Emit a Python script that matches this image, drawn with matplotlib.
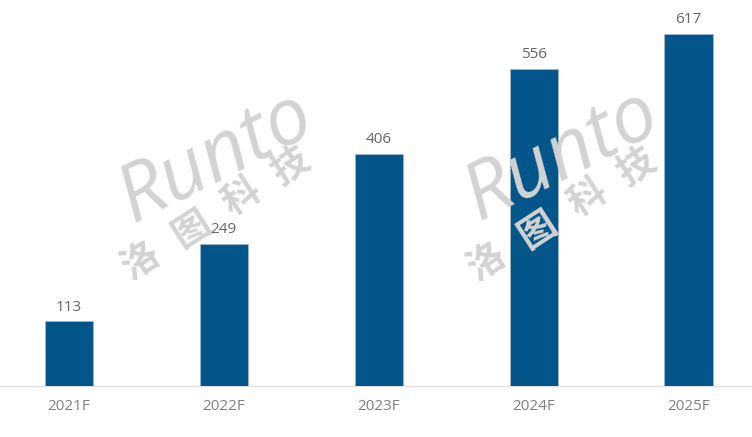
import matplotlib.pyplot as plt

# data
years = ["2021F", "2022F", "2023F", "2024F", "2025F"]
values = [113, 249, 406, 556, 617]

plt.rcParams['font.family'] = ['Open Sans', 'Noto Sans CJK SC', 'DejaVu Sans']

fig = plt.figure(figsize=(7.52, 4.37), dpi=100)
ax = fig.add_axes([0, 51 / 437, 1, 386 / 437])

x = range(len(years))
bars = ax.bar(x, values, width=0.31, color='#03558A', edgecolor='#9bb7d0',
              linewidth=0.6, zorder=3)

# value labels
for bar in bars:
    h = bar.get_height()
    ax.text(bar.get_x() + bar.get_width() / 2, h + 12, f'{int(h)}',
            ha='center', va='bottom', fontsize=11, color='#666666', zorder=6)

ax.set_xlim(-0.445, 4.41)
ax.set_ylim(0, 676)
ax.set_xticks(list(x))
ax.set_xticklabels(years, fontsize=11, color='#808080')
ax.tick_params(axis='x', length=0, pad=9)
ax.set_yticks([])
for s in ['top', 'right', 'left']:
    ax.spines[s].set_visible(False)
ax.spines['bottom'].set_color('#e0e0e0')
ax.spines['bottom'].set_linewidth(1)

# watermarks (over the bars, under the labels), pixel positions
wm_color = '#d3d3d3'
for (cx, cy_r, cy_c) in [(216, 158, 213), (562, 156, 214)]:
    ax.text(cx / 752, 1 - cy_r / 437, "Runto", fontsize=57, style='italic',
            color=wm_color, rotation=27, ha='center', va='center',
            transform=fig.transFigure, zorder=5)
    for i, ch in enumerate("洛图科技"):
        px = cx + (i - 1.5) * 50
        py = cy_c - (i - 1.5) * 32
        ax.text(px / 752, 1 - py / 437, ch, fontsize=27, fontweight='bold',
                color=wm_color, rotation=33, ha='center', va='center',
                transform=fig.transFigure, zorder=5,
                family=['Noto Sans CJK SC', 'DejaVu Sans'])

fig.savefig("out.png", dpi=100)
